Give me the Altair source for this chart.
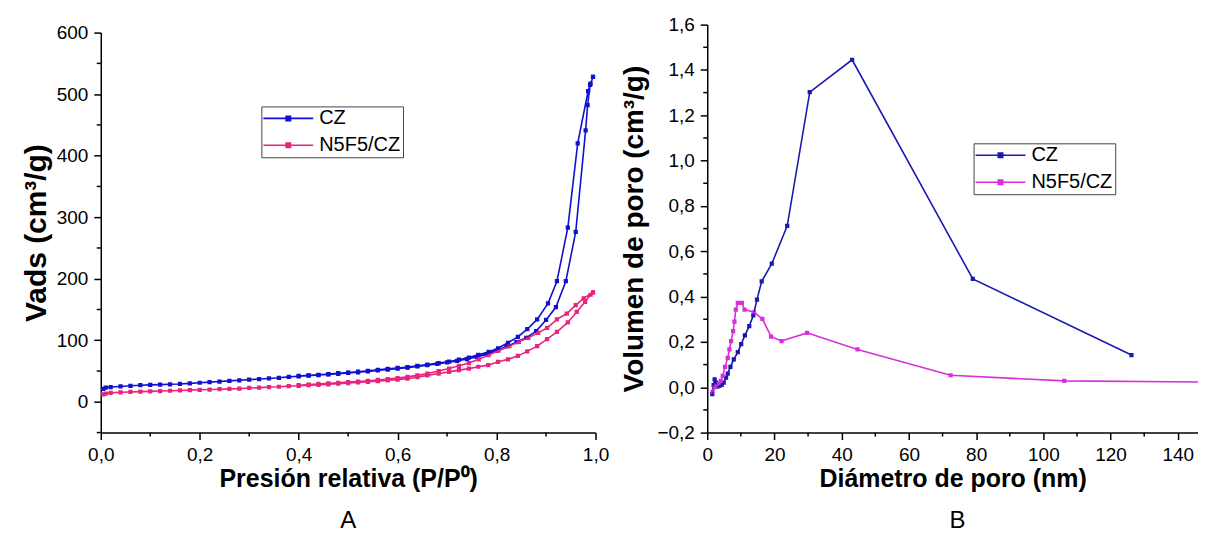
import altair as alt
import pandas as pd

# ---------------- Panel A: N2 isotherms ----------------
series_names = ["CZ", "N5F5/CZ"]

cz_ads_p = [0.005, 0.01, 0.02, 0.04, 0.06, 0.08, 0.10, 0.12, 0.14, 0.16, 0.18, 0.20, 0.22, 0.24, 0.26,
            0.28, 0.30, 0.32, 0.34, 0.36, 0.38, 0.40, 0.42, 0.44, 0.46, 0.48, 0.50, 0.52, 0.54, 0.56,
            0.58, 0.60, 0.62, 0.64, 0.66, 0.68, 0.70, 0.72, 0.74, 0.76, 0.78, 0.80, 0.82, 0.84, 0.86,
            0.88, 0.90, 0.92, 0.94, 0.96, 0.98, 0.984, 0.989, 0.995]
cz_ads_v = [21, 23, 24, 25, 26, 27, 27.5, 28, 28.5, 29, 30, 31, 32, 33, 34,
            35, 36, 37, 38, 39, 40.5, 41.5, 42.5, 43.5, 44.5, 45.5, 47, 48, 49.5, 51,
            52.5, 54, 55.5, 57.5, 59.5, 61.5, 64, 66.5, 69.5, 73, 77.5, 83, 90, 97, 104,
            115, 133, 154, 196, 276, 441, 482, 515, 528]
cz_des_p = [0.995, 0.99, 0.985, 0.964, 0.944, 0.922, 0.904, 0.882, 0.862, 0.843, 0.823, 0.803, 0.784,
            0.763, 0.744, 0.724, 0.704, 0.683, 0.66, 0.64, 0.62, 0.60, 0.58, 0.56, 0.54, 0.52, 0.50,
            0.48, 0.46, 0.44, 0.42, 0.40]
cz_des_v = [528, 517, 505, 420, 283, 196, 160, 134, 118, 105.5, 96, 87, 81,
            76.5, 72, 68.5, 65.5, 63, 60.5, 58.5, 56.5, 55, 53.5, 52, 50.5, 49, 47.5,
            46.5, 45, 44, 43, 42]

n5_ads_p = [0.005, 0.01, 0.02, 0.04, 0.06, 0.08, 0.10, 0.12, 0.14, 0.16, 0.18, 0.20, 0.22, 0.24, 0.26,
            0.28, 0.30, 0.32, 0.34, 0.36, 0.38, 0.40, 0.42, 0.44, 0.46, 0.48, 0.50, 0.52, 0.54, 0.56,
            0.58, 0.60, 0.62, 0.64, 0.66, 0.683, 0.704, 0.724, 0.744, 0.763, 0.783, 0.803, 0.823,
            0.843, 0.862, 0.882, 0.902, 0.922, 0.944, 0.962, 0.979, 0.99, 0.995]
n5_ads_v = [12, 13.5, 14.5, 15.5, 16, 16.5, 17, 17.5, 18, 18.5, 19, 19.5, 20, 20.5, 21,
            21.5, 22.5, 23, 24, 24.5, 25.5, 26, 27, 27.5, 28.5, 29.5, 30.5, 31.5, 32.5, 33.5,
            35, 36, 37.5, 40, 43, 46, 48.7, 51.5, 54, 57, 59.6, 65, 69,
            74.7, 82, 90.5, 102, 113.7, 129, 146, 162.5, 174, 178]
n5_des_p = [0.995, 0.976, 0.96, 0.942, 0.922, 0.902, 0.884, 0.864, 0.845, 0.826, 0.804, 0.784, 0.764,
            0.744, 0.724, 0.704, 0.683, 0.66, 0.64, 0.62, 0.60, 0.58, 0.56, 0.54, 0.52, 0.50, 0.48,
            0.46, 0.44, 0.42, 0.40]
n5_des_v = [178, 168, 157, 143.5, 134, 120, 112, 104, 97.5, 90.5, 83, 76, 69,
            63, 58.5, 54, 50, 46, 43, 40.5, 38.5, 37, 35.5, 34, 33, 32, 31,
            30, 29, 28, 27]

a_x_ticks = [0.0, 0.2, 0.4, 0.6, 0.8, 1.0]
a_x_minor = [0.1, 0.3, 0.5, 0.7, 0.9]
a_y_ticks = [0, 100, 200, 300, 400, 500, 600]
a_y_minor = [-50, 50, 150, 250, 350, 450, 550]

# ---------------- Panel B: pore size distribution ----------------
cz_d = [1.5, 1.9, 2.2, 2.6, 3.0, 3.6, 4.3, 4.9, 5.6, 6.1, 6.9, 7.9, 9.1, 10.1, 11.2, 12.5, 13.7,
        14.8, 16.2, 19.2, 23.8, 30.5, 43.1, 79.0, 126.2]
cz_vol = [-0.03, 0.01, 0.035, 0.02, 0.003, 0.006, 0.01, 0.02, 0.042, 0.06, 0.09, 0.123, 0.155,
          0.19, 0.229, 0.27, 0.317, 0.387, 0.467, 0.545, 0.712, 1.302, 1.445, 0.478, 0.142]
n5_d = [1.6, 2.0, 2.7, 3.4, 4.0, 4.6, 5.3, 6.1, 6.6, 7.1, 7.7, 8.1, 8.5, 9.1, 10.3, 11.1, 13.9,
        16.4, 19.0, 22.1, 29.7, 44.7, 72.4, 106.2, 155.0]
n5_vol = [-0.02, 0.0, 0.006, 0.015, 0.028, 0.05, 0.09, 0.13, 0.167, 0.204, 0.248, 0.29, 0.343,
          0.372, 0.372, 0.343, 0.331, 0.302, 0.223, 0.204, 0.24, 0.167, 0.053, 0.028, 0.022]

b_x_ticks = [0, 20, 40, 60, 80, 100, 120, 140]
b_x_minor = [10, 30, 50, 70, 90, 110, 130]
b_y_ticks = [-0.2, 0.0, 0.2, 0.4, 0.6, 0.8, 1.0, 1.2, 1.4, 1.6]
b_y_minor = [-0.1, 0.1, 0.3, 0.5, 0.7, 0.9, 1.1, 1.3, 1.5]

colors_a = ["#1010D0", "#E8247E"]
colors_b = ["#1A1AAE", "#D92ED9"]

FONT = "Liberation Sans"
# legend glyph: a line segment with a small square on it
LEG_SYMBOL = "M-1,-0.08H4V0.08H-1Z M1.2,-0.3H1.8V0.3H1.2Z"

# ---------- build tables ----------
rows_a = []
for name, parts in [("CZ", [(cz_ads_p, cz_ads_v), (cz_des_p, cz_des_v)]),
                    ("N5F5/CZ", [(n5_ads_p, n5_ads_v), (n5_des_p, n5_des_v)])]:
    k = 0
    for ps, vs in parts:
        for p, v in zip(ps, vs):
            rows_a.append({"x": p, "y": v, "s": name, "i": k})
            k += 1
df_a = pd.DataFrame(rows_a)

rows_b = []
for name, ds, vs in [("CZ", cz_d, cz_vol), ("N5F5/CZ", n5_d, n5_vol)]:
    for k, (d, v) in enumerate(zip(ds, vs)):
        rows_b.append({"x": d, "y": v, "s": name, "i": k})
df_b = pd.DataFrame(rows_b)


def legend(x, y):
    return alt.Legend(title=None, orient="none", legendX=x, legendY=y,
                      symbolType=LEG_SYMBOL, symbolSize=400, symbolStrokeWidth=0,
                      symbolOpacity=1, labelFontSize=20, labelFont=FONT, labelColor="black",
                      padding=2, rowPadding=7, labelOffset=36, strokeColor="#444444",
                      fillColor="white", labelLimit=400)


def panel(df, xs, ys, colors, xaxis, yaxis, leg, xminor, yminor, W, H, label, lx, ly):
    sc = alt.Scale(domain=series_names, range=colors)
    pts = alt.Chart(df).mark_point(shape="square", filled=True, size=18, opacity=1, clip=True).encode(
        x=alt.X("x:Q", scale=xs, axis=xaxis),
        y=alt.Y("y:Q", scale=ys, axis=yaxis),
        color=alt.Color("s:N", scale=sc, legend=leg),
    )
    line = alt.Chart(df).mark_line(strokeWidth=1.6, clip=True).encode(
        x=alt.X("x:Q", scale=xs),
        y=alt.Y("y:Q", scale=ys),
        color=alt.Color("s:N", scale=sc),
        order=alt.Order("i:Q"),
    )
    my = alt.Chart(pd.DataFrame({"y": yminor})).mark_rule(color="black", strokeWidth=1.5).encode(
        y=alt.Y("y:Q", scale=ys), x=alt.value(0), x2=alt.value(-4))
    mx = alt.Chart(pd.DataFrame({"x": xminor})).mark_rule(color="black", strokeWidth=1.5).encode(
        x=alt.X("x:Q", scale=xs), y=alt.value(H), y2=alt.value(H + 4))
    lab = alt.Chart(pd.DataFrame({"t": [label]})).mark_text(
        fontSize=24, font=FONT, color="black", baseline="middle").encode(
        text="t:N", x=alt.value(lx), y=alt.value(ly))
    return alt.layer(pts, line, my, mx, lab).properties(width=W, height=H)


H = 409

# ---------- Panel A ----------
WA = 496
panel_a = panel(
    df_a,
    alt.Scale(domain=[0, 1], nice=False, zero=False),
    alt.Scale(domain=[-50, 600], nice=False, zero=False, range=[H, 8]),
    colors_a,
    alt.Axis(title="Presión relativa (P/P⁰)", values=a_x_ticks, format=".1f",
             labelExpr="replace(datum.label, '.', ',')", labelFlush=False,
             labelOverlap=False, grid=False, titlePadding=2),
    alt.Axis(title="Vads (cm³/g)", values=a_y_ticks, format="d", labelFlush=False,
             labelOverlap=False, grid=False, titlePadding=5, titleFontSize=30),
    legend(161, 82), a_x_minor, a_y_minor, WA, H, "A", WA / 2, 498,
)

# ---------- Panel B ----------
WB = 492
panel_b = panel(
    df_b,
    alt.Scale(domain=[0, 146], nice=False, zero=False),
    alt.Scale(domain=[-0.2, 1.6], nice=False, zero=False),
    colors_b,
    alt.Axis(title="Diámetro de poro (nm)", values=b_x_ticks, format="d", labelFlush=False,
             labelOverlap=False, grid=False, titlePadding=2),
    alt.Axis(title="Volumen de poro (cm³/g)", values=b_y_ticks, format=".1f",
             labelExpr="replace(datum.label, '.', ',')", labelFlush=False,
             labelOverlap=False, grid=False, titlePadding=8, titleFontSize=28),
    legend(267, 119), b_x_minor, b_y_minor, WB, H, "B", 251, 498,
)

chart = alt.hconcat(panel_a, panel_b, spacing=11).resolve_scale(
    color="independent", x="independent", y="independent"
).properties(
    padding={"left": 13, "top": 7, "right": 0, "bottom": 0},
    background="white",
).configure_view(stroke=None).configure_axis(
    labelFont=FONT, labelFontSize=19, labelColor="black", labelPadding=6,
    titleFont=FONT, titleFontSize=25, titleFontWeight="bold", titleColor="black",
    domainColor="black", domainWidth=1.5, tickColor="black", tickWidth=1.5, tickSize=7,
)

chart.save("out.html", embed_options={"renderer": "svg", "actions": False})
